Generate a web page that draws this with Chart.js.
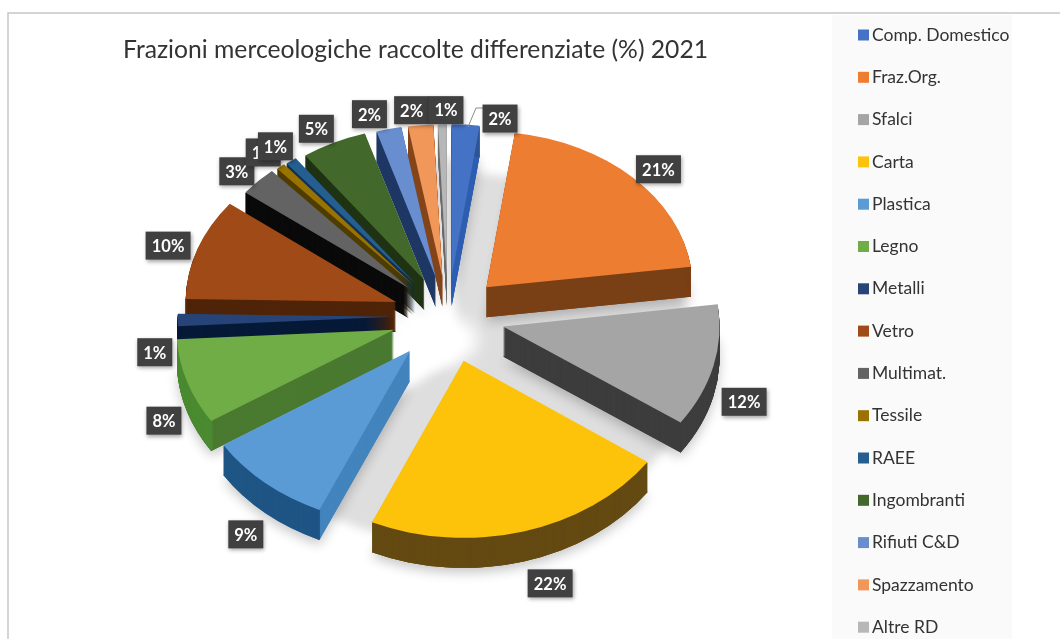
<!DOCTYPE html>
<html lang="it">
<head>
    <meta charset="UTF-8">
    <title>Frazioni merceologiche</title>
    <script src="https://cdn.jsdelivr.net/npm/chart.js"></script>
    <style>
        * { margin: 0; padding: 0; box-sizing: border-box; }
        body { background-color: #ffffff; overflow: hidden; }
        #chart-container { position: absolute; left: 0; top: 0; width: 1060px; height: 639px; }
    </style>
</head>
<body>
    <div id="chart-container"><canvas id="pieChart" width="1060" height="639"></canvas></div>

    <script>
        const chartTitle = 'Frazioni merceologiche raccolte differenziate (%) 2021';
        const categories = ['Comp. Domestico', 'Fraz.Org.', 'Sfalci', 'Carta', 'Plastica', 'Legno', 'Metalli', 'Vetro',
            'Multimat.', 'Tessile', 'RAEE', 'Ingombranti', 'Rifiuti C&D', 'Spazzamento', 'Altre RD'];
        const shares = [2.2, 20.7, 11.8, 22, 9.2, 8.2, 1.2, 10.2, 3, 0.7, 0.9, 5.2, 2, 2, 0.7];
        const sliceColors = ['#4472c4', '#ed7d31', '#a5a5a5', '#fdc30a', '#5b9bd5', '#70ad47', '#264478', '#a04a18',
            '#636363', '#997300', '#255e91', '#43682b', '#698ed0', '#f1975a', '#b7b7b7'];
        const sideColors = ['#2f5fb0', '#7a4016', '#3d3d3d', '#6b5012', '#4384bd', '#4a7a30', '#061a38', '#4f2408',
            '#0a0a0a', '#4f3c00', '#123050', '#1f3314', '#1f3864', '#84461a', '#6e6e6e'];
        const rimColors = ['#2f5597', '#7a4016', '#3d3d3d', '#644a12', '#1f5585', '#4a8a30', '#061a38', '#4f2408',
            '#0a0a0a', '#4f3c00', '#123050', '#1f3314', '#1f3864', '#84461a', '#6e6e6e'];

        // view settings for the tilted pie
        const VIEW = { cx: 448, cy: 316, kx: 1.0, kxFront: 0.05, ky: 0.77, kyFront: 0.06, depth: 30 };
        // hand placed labels, same as moving them around in Excel
        const labelNudges = {
            0: [36, 8], 1: [15, 2], 2: [14, 0], 3: [24, 4], 4: [-3, 7], 5: [-1, 2], 7: [-8, 2], 8: [-4, 0],
            9: [-2, -3], 10: [-1, -3], 11: [-6, -1], 12: [-12, -1], 13: [-4, -1], 14: [7, 0]
        };
        const fmt = (v) => Math.round(v) + '%';

        function midAngle(arc) {
            return (arc.startAngle + arc.endAngle) / 2;
        }

        function applyView(ctx, arc, drop) {
            const front = Math.sin(midAngle(arc));
            ctx.translate(VIEW.cx, VIEW.cy + drop);
            ctx.scale(VIEW.kx + VIEW.kxFront * front, VIEW.ky + VIEW.kyFront * front);
            ctx.translate(-arc.x, -arc.y);
        }

        function sliceCenter(arc) {
            const mid = midAngle(arc);
            const off = arc.options.offset / 2;
            return { x: arc.x + Math.cos(mid) * off, y: arc.y + Math.sin(mid) * off };
        }

        function sectorPath(ctx, arc) {
            const c = sliceCenter(arc);
            ctx.beginPath();
            ctx.moveTo(c.x, c.y);
            ctx.arc(c.x, c.y, arc.outerRadius, arc.startAngle, arc.endAngle);
            ctx.closePath();
        }

        const tiltedPie = {
            id: 'tiltedPie',
            beforeDraw(chart) {
                const ctx = chart.ctx;
                ctx.save();
                ctx.fillStyle = '#ffffff';
                ctx.fillRect(0, 0, chart.width, chart.height);
                ctx.fillStyle = '#fafafa';
                ctx.fillRect(832, 15, 180, 624);
                ctx.strokeStyle = '#c6c6c6';
                ctx.lineWidth = 1.5;
                ctx.beginPath();
                ctx.moveTo(8, 639);
                ctx.lineTo(8, 13);
                ctx.lineTo(1060, 13);
                ctx.stroke();
                ctx.restore();
            },
            beforeDatasetDraw(chart, args) {
                const ctx = chart.ctx;
                const arcs = chart.getDatasetMeta(args.index).data;

                // soft floor shadow
                ctx.save();
                ctx.filter = 'blur(5px)';
                ctx.fillStyle = '#dedede';
                ctx.translate(VIEW.cx + 8, VIEW.cy + 42);
                ctx.scale(1.03, 0.8);
                ctx.beginPath();
                ctx.moveTo(0, 0);
                ctx.arc(0, 0, 232, -Math.PI / 2, Math.PI * 0.78);
                ctx.closePath();
                ctx.fill();
                ctx.restore();

                // white patch in the middle of the shadow
                ctx.save();
                ctx.filter = 'blur(8px)';
                ctx.fillStyle = '#ffffff';
                ctx.beginPath();
                ctx.ellipse(444, 340, 34, 24, 0, 0, Math.PI * 2);
                ctx.fill();
                ctx.restore();

                const order = arcs.map((a, i) => i).sort((a, b) => Math.sin(midAngle(arcs[a])) - Math.sin(midAngle(arcs[b])));

                // blurred drop under the lowest layer of every slice
                order.forEach((i) => {
                    ctx.save();
                    ctx.shadowColor = 'rgba(0,0,0,0.22)';
                    ctx.shadowBlur = 12;
                    ctx.shadowOffsetY = 5;
                    ctx.fillStyle = sideColors[i];
                    applyView(ctx, arcs[i], VIEW.depth);
                    sectorPath(ctx, arcs[i]);
                    ctx.fill();
                    ctx.restore();
                });

                // side walls, back slices first
                order.forEach((i) => {
                    for (let d = VIEW.depth; d > 0; d--) {
                        ctx.save();
                        applyView(ctx, arcs[i], d);
                        sectorPath(ctx, arcs[i]);
                        ctx.fillStyle = sideColors[i];
                        ctx.fill();
                        ctx.restore();
                    }
                    // outer rim on top of the straight walls
                    for (let d = VIEW.depth; d > 0; d--) {
                        ctx.save();
                        applyView(ctx, arcs[i], d);
                        const c = sliceCenter(arcs[i]);
                        ctx.beginPath();
                        ctx.arc(c.x, c.y, arcs[i].outerRadius - 1, arcs[i].startAngle, arcs[i].endAngle);
                        ctx.strokeStyle = rimColors[i];
                        ctx.lineWidth = 2;
                        ctx.stroke();
                        ctx.restore();
                    }
                });

                // top faces
                order.forEach((i) => {
                    ctx.save();
                    applyView(ctx, arcs[i], 0);
                    sectorPath(ctx, arcs[i]);
                    ctx.fillStyle = arcs[i].options.backgroundColor;
                    ctx.fill();
                    ctx.restore();
                });
                return false;
            },
            afterDraw(chart) {
                const ctx = chart.ctx;
                const arcs = chart.getDatasetMeta(0).data;
                ctx.save();

                // title
                ctx.fillStyle = '#333333';
                ctx.font = '24.7px Lato';
                ctx.textAlign = 'left';
                ctx.textBaseline = 'middle';
                ctx.fillText(chartTitle, 123, 50);

                // legend
                ctx.font = '17.5px Lato';
                categories.forEach((name, i) => {
                    const y = 35 + i * 42.3;
                    ctx.fillStyle = sliceColors[i];
                    ctx.fillRect(858, y - 5.5, 11, 11);
                    ctx.fillStyle = '#333333';
                    ctx.fillText(name, 872, y);
                });

                // leader line of the first label
                ctx.strokeStyle = '#8c8c8c';
                ctx.lineWidth = 1;
                ctx.beginPath();
                ctx.moveTo(468, 127);
                ctx.lineTo(476, 108);
                ctx.lineTo(484, 108);
                ctx.stroke();

                // value labels
                ctx.font = 'bold 16.5px Lato';
                ctx.textAlign = 'center';
                arcs.forEach((arc, i) => {
                    const mid = midAngle(arc);
                    const front = Math.sin(mid);
                    const nudge = labelNudges[i] || [0, 0];
                    const x = VIEW.cx - 3 + Math.cos(mid) * 290 * (VIEW.kx + VIEW.kxFront * front) + nudge[0];
                    const y = VIEW.cy + Math.sin(mid) * 290 * (VIEW.ky + VIEW.kyFront * front) + (front >= -0.1 ? 32 : 0) + nudge[1];
                    const text = fmt(shares[i]);
                    const w = text.length > 2 ? 45 : 35;
                    ctx.save();
                    ctx.shadowColor = 'rgba(0,0,0,0.35)';
                    ctx.shadowBlur = 4;
                    ctx.shadowOffsetX = 1;
                    ctx.shadowOffsetY = 2;
                    ctx.fillStyle = '#404040';
                    ctx.fillRect(x - w / 2, y - 14, w, 28);
                    ctx.restore();
                    ctx.fillStyle = '#ffffff';
                    ctx.fillText(text, x, y + 1);
                });
                ctx.restore();
            }
        };

        new Chart(document.getElementById('pieChart').getContext('2d'), {
            type: 'pie',
            data: {
                labels: categories,
                datasets: [{
                    data: shares,
                    backgroundColor: sliceColors,
                    borderWidth: 0,
                    offset: 112,
                    radius: 214
                }]
            },
            options: {
                responsive: false,
                animation: false,
                plugins: {
                    legend: { display: false },
                    tooltip: { enabled: false }
                }
            },
            plugins: [tiltedPie]
        });
    </script>
</body>
</html>
